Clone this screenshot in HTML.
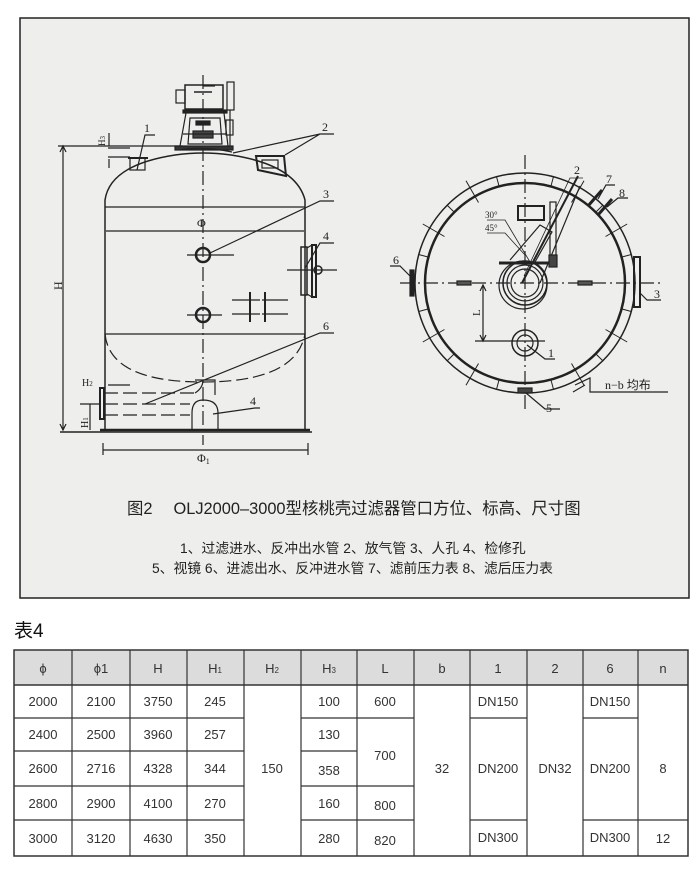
<!DOCTYPE html>
<html><head><meta charset="utf-8"><style>
html,body{margin:0;padding:0;background:#fff;}
body{width:700px;height:875px;position:relative;overflow:hidden;font-family:"Liberation Sans","Noto Sans CJK SC",sans-serif;}
svg{position:absolute;left:0;top:0;}
</style></head><body>
<svg width="700" height="875" viewBox="0 0 700 875" xmlns="http://www.w3.org/2000/svg" font-family="Liberation Sans, Noto Sans CJK SC, sans-serif">
<rect x="0" y="0" width="700" height="875" fill="#fff"/>
<rect x="20" y="18" width="669" height="580" fill="#eeeeec" stroke="#222" stroke-width="1.5"/>

<!-- ===== Side view ===== -->
<g stroke="#222" fill="none" stroke-width="1.2">
  <path d="M105 430 L105 200 Q110 165 175 155 Q203 151 231 155 Q296 165 305 200 L305 430" stroke-width="1.5"/>
  <line x1="105" y1="207" x2="305" y2="207"/>
  <line x1="105" y1="334" x2="305" y2="334"/>
  <path d="M105 334 Q110 382 203 382 Q296 382 305 334" stroke-dasharray="12 5"/>
  <line x1="60" y1="432" x2="312" y2="432" stroke-width="1.5"/>
  <line x1="100" y1="430" x2="310" y2="430" stroke-width="2.5"/>
  <line x1="203" y1="75" x2="203" y2="445" stroke-dasharray="14 4 2 4"/>
  <line x1="106" y1="231" x2="304" y2="231"/>
  <circle cx="203" cy="255" r="7" stroke-width="2.5"/>
  <line x1="187" y1="255" x2="234" y2="255"/>
  <circle cx="203" cy="315" r="7" stroke-width="2.5"/>
  <line x1="187" y1="315" x2="222" y2="315"/>
  <line x1="232" y1="300" x2="260" y2="300"/><line x1="232" y1="314" x2="260" y2="314"/>
  <line x1="262" y1="300" x2="288" y2="300"/><line x1="262" y1="314" x2="288" y2="314"/>
  <line x1="250" y1="292" x2="250" y2="322" stroke-width="2"/>
  <line x1="265" y1="292" x2="265" y2="322" stroke-width="2"/>
  <rect x="301" y="247" width="6" height="48" stroke-width="1.5"/>
  <line x1="307" y1="248" x2="312" y2="245" /><line x1="307" y1="294" x2="312" y2="297"/>
  <rect x="312" y="245" width="4" height="52" stroke-width="2"/>
  <circle cx="318" cy="270" r="4" stroke-width="1.5"/>
  <line x1="287" y1="270" x2="337" y2="270"/>
  <rect x="185" y="85" width="38" height="24" stroke-width="1.5"/>
  <rect x="176" y="90" width="9" height="13"/>
  <line x1="203" y1="86" x2="215" y2="86"/>
  <line x1="194" y1="92" x2="212" y2="92" stroke-width="1.5"/>
  <rect x="183" y="110" width="44" height="3" fill="#222"/>
  <path d="M186 113 L180 146 M224 113 L228 146"/>
  <path d="M190 118 L220 118 L222 144 L188 144 Z"/>
  <rect x="196" y="121" width="14" height="4" fill="#222"/>
  <rect x="193" y="131" width="20" height="7" fill="#444"/>
  <line x1="183" y1="134" x2="227" y2="134"/>
  <rect x="175" y="146" width="58" height="4" fill="#333"/>
  <rect x="227" y="82" width="7" height="28"/>
  <line x1="230" y1="110" x2="230" y2="146"/>
  <rect x="226" y="120" width="7" height="15"/>
  <path d="M180 150 Q203 146 232 152"/>
  <rect x="130" y="158" width="15" height="12"/>
  <line x1="128" y1="158" x2="148" y2="158" stroke-width="2"/>
  <path d="M256 156 L284 156 L286 176 L258 170 Z" stroke-width="2"/>
  <rect x="262" y="160" width="16" height="8"/>
  <line x1="58" y1="146" x2="183" y2="146"/>
  <line x1="63" y1="146" x2="63" y2="430"/>
  <path d="M60 152 L63 146 L66 152 M60 424 L63 430 L66 424" />
  <line x1="108" y1="148" x2="130" y2="148"/>
  <line x1="108" y1="157" x2="130" y2="157"/>
  <line x1="109" y1="133" x2="109" y2="146"/><line x1="109" y1="159" x2="109" y2="168"/>
  <rect x="100" y="388" width="4" height="31" stroke-width="2"/>
  <path d="M104 393 L195 393 M104 404 L190 404 M104 415 L190 415" stroke-dasharray="14 5"/>
  <path d="M195 393 Q203 388 203 380 M195 380 L215 380 L215 395"/>
  <path d="M192 430 L192 413 Q192 400 203 400 Q218 400 218 413 L218 430"/>
  <line x1="80" y1="404" x2="100" y2="404"/>
  <line x1="90" y1="404" x2="90" y2="430"/>
  <line x1="108" y1="385" x2="130" y2="385"/>
  <line x1="103" y1="450" x2="308" y2="450"/>
  <line x1="103" y1="443" x2="103" y2="455"/><line x1="308" y1="443" x2="308" y2="455"/>
  <path d="M137 170 L145 135 L155 135"/>
  <path d="M233 153 L320 134 L334 134 M285 155 L320 134"/>
  <path d="M210 253 L320 201 L334 201"/>
  <path d="M305 268 L320 243 L334 243"/>
  <path d="M145 404 L320 333 L334 333"/>
  <path d="M213 414 L255 408 L260 408"/>
</g>
<g font-family="Liberation Serif, serif" font-size="12" fill="#222">
  <text x="144" y="132">1</text>
  <text x="322" y="131">2</text>
  <text x="323" y="198">3</text>
  <text x="323" y="240">4</text>
  <text x="323" y="330">6</text>
  <text x="250" y="405">4</text>
  <text x="197" y="227">Φ</text>
  <text x="197" y="462">Φ<tspan font-size="8" dy="2">1</tspan></text>
  <text transform="translate(62,290) rotate(-90)" font-size="12">H</text>
  <text transform="translate(105,146) rotate(-90)" font-size="9">H<tspan font-size="7">3</tspan></text>
  <text x="82" y="386" font-size="10">H<tspan font-size="7">2</tspan></text>
  <text transform="translate(88,428) rotate(-90)" font-size="10">H<tspan font-size="7">1</tspan></text>
</g>

<!-- ===== Top view ===== -->
<g stroke="#222" fill="none" stroke-width="1.2">
  <circle cx="525" cy="283" r="110" stroke-width="1.5"/>
  <circle cx="525" cy="283" r="100" stroke-width="2.5"/>
  <g stroke-width="1">
    <line x1="525" y1="173" x2="525" y2="183" transform="rotate(15 525 283)"/>
    <line x1="525" y1="173" x2="525" y2="183" transform="rotate(45 525 283)"/>
    <line x1="525" y1="173" x2="525" y2="183" transform="rotate(75 525 283)"/>
    <line x1="525" y1="173" x2="525" y2="183" transform="rotate(105 525 283)"/>
    <line x1="525" y1="173" x2="525" y2="183" transform="rotate(135 525 283)"/>
    <line x1="525" y1="173" x2="525" y2="183" transform="rotate(165 525 283)"/>
    <line x1="525" y1="173" x2="525" y2="183" transform="rotate(195 525 283)"/>
    <line x1="525" y1="173" x2="525" y2="183" transform="rotate(225 525 283)"/>
    <line x1="525" y1="173" x2="525" y2="183" transform="rotate(255 525 283)"/>
    <line x1="525" y1="173" x2="525" y2="183" transform="rotate(285 525 283)"/>
    <line x1="525" y1="173" x2="525" y2="183" transform="rotate(315 525 283)"/>
    <line x1="525" y1="173" x2="525" y2="183" transform="rotate(345 525 283)"/>
    <line x1="525" y1="165" x2="525" y2="190" transform="rotate(30 525 283)"/>
    <line x1="525" y1="165" x2="525" y2="190" transform="rotate(60 525 283)"/>
    <line x1="525" y1="165" x2="525" y2="190" transform="rotate(120 525 283)"/>
    <line x1="525" y1="165" x2="525" y2="190" transform="rotate(150 525 283)"/>
    <line x1="525" y1="165" x2="525" y2="190" transform="rotate(210 525 283)"/>
    <line x1="525" y1="165" x2="525" y2="190" transform="rotate(240 525 283)"/>
    <line x1="525" y1="165" x2="525" y2="190" transform="rotate(300 525 283)"/>
    <line x1="525" y1="165" x2="525" y2="190" transform="rotate(330 525 283)"/>
  </g>
  <line x1="400" y1="283" x2="660" y2="283" stroke-dasharray="14 4 2 4"/>
  <line x1="525" y1="155" x2="525" y2="412" stroke-dasharray="14 4 2 4"/>
  <rect x="457" y="281" width="14" height="4" fill="#555"/>
  <rect x="578" y="281" width="14" height="4" fill="#555"/>
  <circle cx="525" cy="283" r="22" stroke-width="1.5"/>
  <circle cx="525" cy="283" r="18"/>
  <circle cx="525" cy="283" r="14"/>
  <circle cx="523" cy="285" r="24"/>
  <line x1="499" y1="263" x2="550" y2="263" stroke-width="3"/>
  <path d="M510 260 L540 225 L552 232 L535 262" />
  <line x1="522" y1="283" x2="578" y2="176" stroke-width="2"/>
  <line x1="540" y1="283" x2="580" y2="186" />
  <rect x="518" y="206" width="26" height="14" stroke-width="2"/>
  <rect x="550" y="202" width="6" height="56"/>
  <rect x="549" y="255" width="8" height="12" fill="#444"/>
  <circle cx="525" cy="343" r="13" stroke-width="1.5"/>
  <circle cx="525" cy="343" r="8"/>
  <line x1="475" y1="341" x2="545" y2="341"/>
  <rect x="410" y="270" width="4" height="26" fill="#222"/>
  <rect x="634" y="257" width="6" height="50" stroke-width="2"/>
  <rect x="518" y="388" width="14" height="5" fill="#444"/>
  <line x1="588" y1="206" x2="602" y2="190" stroke-width="3"/>
  <line x1="598" y1="215" x2="612" y2="199" stroke-width="3"/>
  <line x1="483" y1="285" x2="483" y2="341"/>
  <path d="M480 291 L483 285 L486 291 M480 335 L483 341 L486 335"/>
  <path d="M524 276 L570 178 L583 178" stroke-width="0.8"/>
  <path d="M598 199 L606 185 L615 185"/>
  <path d="M607 207 L618 198 L628 198"/>
  <path d="M487 220 L505 220 L530 262 M487 233 L505 233 L525 255" stroke-width="0.8"/>
  <path d="M410 276 L400 266 L390 266"/>
  <path d="M640 293 L647 300 L661 300"/>
  <path d="M527 345 L545 359 L555 359"/>
  <path d="M526 393 L545 409 L560 409"/>
  <path d="M575 385 L590 378 L590 392 L668 392"/>
  <path d="M573 392 L585 385"/>
</g>
<g font-family="Liberation Serif, serif" font-size="12" fill="#222">
  <text x="574" y="174">2</text>
  <text x="606" y="183">7</text>
  <text x="619" y="197">8</text>
  <text x="485" y="218" font-size="9">30°</text>
  <text x="485" y="231" font-size="9">45°</text>
  <text x="393" y="264">6</text>
  <text x="654" y="298">3</text>
  <text x="548" y="357">1</text>
  <text x="546" y="412">5</text>
  <text transform="translate(480,316) rotate(-90)" font-size="11">L</text>
  <text x="605" y="389" font-size="12">n−b <tspan font-family="Noto Sans CJK SC, sans-serif">均布</tspan></text>
</g>

<text x="127" y="514" font-size="16.4" fill="#222">图2　 OLJ2000–3000型核桃壳过滤器管口方位、标高、尺寸图</text>
<text x="180" y="553" font-size="13.8" fill="#222">1、过滤进水、反冲出水管  2、放气管  3、人孔  4、检修孔</text>
<text x="152" y="573" font-size="13.8" fill="#222">5、视镜  6、进滤出水、反冲进水管  7、滤前压力表   8、滤后压力表</text>

<text x="14" y="637" font-size="19" fill="#111">表4</text>

<g font-size="13" fill="#333" text-anchor="middle">
  <rect x="14" y="650" width="674" height="35" fill="#dcdcdc"/>
  <g stroke="#333" stroke-width="1.2" fill="none">
    <rect x="14" y="650" width="674" height="206" stroke-width="1.5"/>
    <line x1="14" y1="685" x2="688" y2="685" stroke-width="1.5"/>
    <line x1="72" y1="650" x2="72" y2="856"/><line x1="130" y1="650" x2="130" y2="856"/>
    <line x1="187" y1="650" x2="187" y2="856"/><line x1="244" y1="650" x2="244" y2="856"/>
    <line x1="301" y1="650" x2="301" y2="856"/><line x1="357" y1="650" x2="357" y2="856"/>
    <line x1="414" y1="650" x2="414" y2="856"/><line x1="470" y1="650" x2="470" y2="856"/>
    <line x1="527" y1="650" x2="527" y2="856"/><line x1="583" y1="650" x2="583" y2="856"/>
    <line x1="638" y1="650" x2="638" y2="856"/>
    <line x1="14" y1="718" x2="244" y2="718"/><line x1="14" y1="751" x2="244" y2="751"/>
    <line x1="14" y1="786" x2="244" y2="786"/><line x1="14" y1="820" x2="244" y2="820"/>
    <line x1="301" y1="718" x2="357" y2="718"/><line x1="301" y1="751" x2="357" y2="751"/>
    <line x1="301" y1="786" x2="357" y2="786"/><line x1="301" y1="820" x2="357" y2="820"/>
    <line x1="357" y1="718" x2="414" y2="718"/><line x1="357" y1="786" x2="414" y2="786"/>
    <line x1="357" y1="820" x2="414" y2="820"/>
    <line x1="470" y1="718" x2="527" y2="718"/><line x1="470" y1="820" x2="527" y2="820"/>
    <line x1="583" y1="718" x2="638" y2="718"/><line x1="583" y1="820" x2="638" y2="820"/>
    <line x1="638" y1="820" x2="688" y2="820"/>
  </g>
  <text x="43" y="673">ϕ</text><text x="101" y="673">ϕ1</text><text x="158" y="673">H</text>
  <text x="215" y="673">H<tspan font-size="8">1</tspan></text>
  <text x="272" y="673">H<tspan font-size="8">2</tspan></text>
  <text x="329" y="673">H<tspan font-size="8">3</tspan></text>
  <text x="385" y="673">L</text><text x="442" y="673">b</text><text x="498" y="673">1</text>
  <text x="555" y="673">2</text><text x="610" y="673">6</text><text x="663" y="673">n</text>

  <text x="43" y="706">2000</text><text x="101" y="706">2100</text><text x="158" y="706">3750</text><text x="215" y="706">245</text>
  <text x="43" y="739">2400</text><text x="101" y="739">2500</text><text x="158" y="739">3960</text><text x="215" y="739">257</text>
  <text x="43" y="773">2600</text><text x="101" y="773">2716</text><text x="158" y="773">4328</text><text x="215" y="773">344</text>
  <text x="43" y="808">2800</text><text x="101" y="808">2900</text><text x="158" y="808">4100</text><text x="215" y="808">270</text>
  <text x="43" y="843">3000</text><text x="101" y="843">3120</text><text x="158" y="843">4630</text><text x="215" y="843">350</text>

  <text x="272" y="773">150</text>
  <text x="329" y="706">100</text><text x="329" y="739">130</text><text x="329" y="775">358</text>
  <text x="329" y="808">160</text><text x="329" y="843">280</text>
  <text x="385" y="706">600</text><text x="385" y="760">700</text><text x="385" y="810">800</text><text x="385" y="845">820</text>
  <text x="442" y="773">32</text>
  <text x="498" y="706">DN150</text><text x="498" y="773">DN200</text><text x="498" y="842">DN300</text>
  <text x="555" y="773">DN32</text>
  <text x="610" y="706">DN150</text><text x="610" y="773">DN200</text><text x="610" y="842">DN300</text>
  <text x="663" y="773">8</text><text x="663" y="843">12</text>
</g>
</svg>
</body></html>
